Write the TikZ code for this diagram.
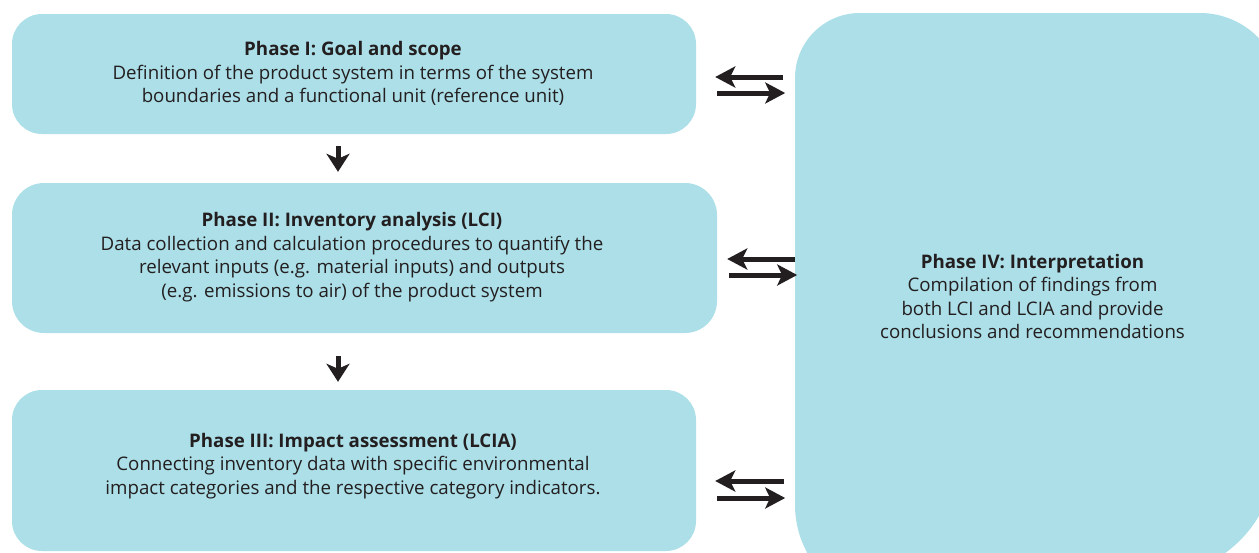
\documentclass[tikz,border=0pt]{standalone}
\usepackage{fontspec}
\setmainfont{Open Sans}
\usetikzlibrary{arrows.meta,calc}
\definecolor{boxblue}{RGB}{172,223,232}
\definecolor{ink}{RGB}{35,31,32}
\begin{document}
\begin{tikzpicture}[x=1pt,y=-1pt,
  phase/.style={fill=boxblue, draw=none, inner sep=0pt},
  txt/.style={align=center, font=\fontsize{18.7}{23.6}\selectfont, text=ink, inner sep=0pt},
  downarrow/.style={draw=ink, line width=5pt, -{Stealth[length=18pt,width=23pt,inset=5pt]}},
  sidearrow/.style={draw=ink, line width=5pt, -{Stealth[length=20pt,width=21pt,inset=5pt]}},
]
\useasboundingbox (0,0) rectangle (1259,552);
\begin{scope}
\clip (0,0) rectangle (1259,552);
\node[phase, rounded corners=30pt, minimum width=684pt, minimum height=120pt] (b1) at (354,74) {};
\node[phase, rounded corners=32pt, minimum width=705pt, minimum height=150pt] (b2) at (364.5,258) {};
\node[phase, rounded corners=30pt, minimum width=684pt, minimum height=161pt] (b3) at (354,470.5) {};
\fill[boxblue] (795,505) -- (795,78) .. controls (795,42) and (824,13) .. (860,13)
  -- (1200,13) .. controls (1245,13) and (1282,50) .. (1282,95)
  -- (1282,410) .. controls (1282,495) and (1255,535) .. (1215,560)
  -- (1000,620) -- (895,605) .. controls (840,605) and (795,560) .. (795,505) -- cycle;
\end{scope}
\node[inner sep=0pt, minimum width=487pt, minimum height=539pt] (b4) at (1038.5,282.5) {};

\node[txt] (t1) at (353,73.5) {\textbf{Phase I: Goal and scope}\\Definition of the product system in terms of the system\\boundaries and a functional unit (reference unit)};
\node[txt] (t2) at (352,257) {\textbf{Phase II: Inventory analysis (LCI)}\\Data collection and calculation procedures to quantify the\\relevant inputs (e.g. material inputs) and outputs\\(e.g. emissions to air) of the product system};
\node[txt] (t3) at (353,466) {\textbf{Phase III: Impact assessment (LCIA)}\\Connecting inventory data with specific environmental\\impact categories and the respective category indicators.};
\node[txt] (t4) at (1032.5,296.5) {\textbf{Phase IV: Interpretation}\\Compilation of findings from\\both LCI and LCIA and provide\\conclusions and recommendations};

\draw[downarrow] ($(b1.south)+(-16,12)$) -- ($(b2.north)+(-26.5,-11)$);
\draw[downarrow] ($(b2.south)+(-26.5,23)$) -- ($(b3.north)+(-16,-8)$);

\draw[sidearrow] ($(b1.east)+(87,3)$) -- ($(b1.east)+(19,3)$);
\draw[sidearrow] ($(b1.east)+(21,19)$) -- ($(b1.east)+(89,19)$);
\draw[sidearrow] ($(b2.east)+(78,1)$) -- ($(b2.east)+(10,1)$);
\draw[sidearrow] ($(b2.east)+(12,17)$) -- ($(b2.east)+(80,17)$);
\draw[sidearrow] ($(b3.east)+(88,10.5)$) -- ($(b3.east)+(19,10.5)$);
\draw[sidearrow] ($(b3.east)+(21,27.5)$) -- ($(b3.east)+(89,27.5)$);
\end{tikzpicture}
\end{document}
